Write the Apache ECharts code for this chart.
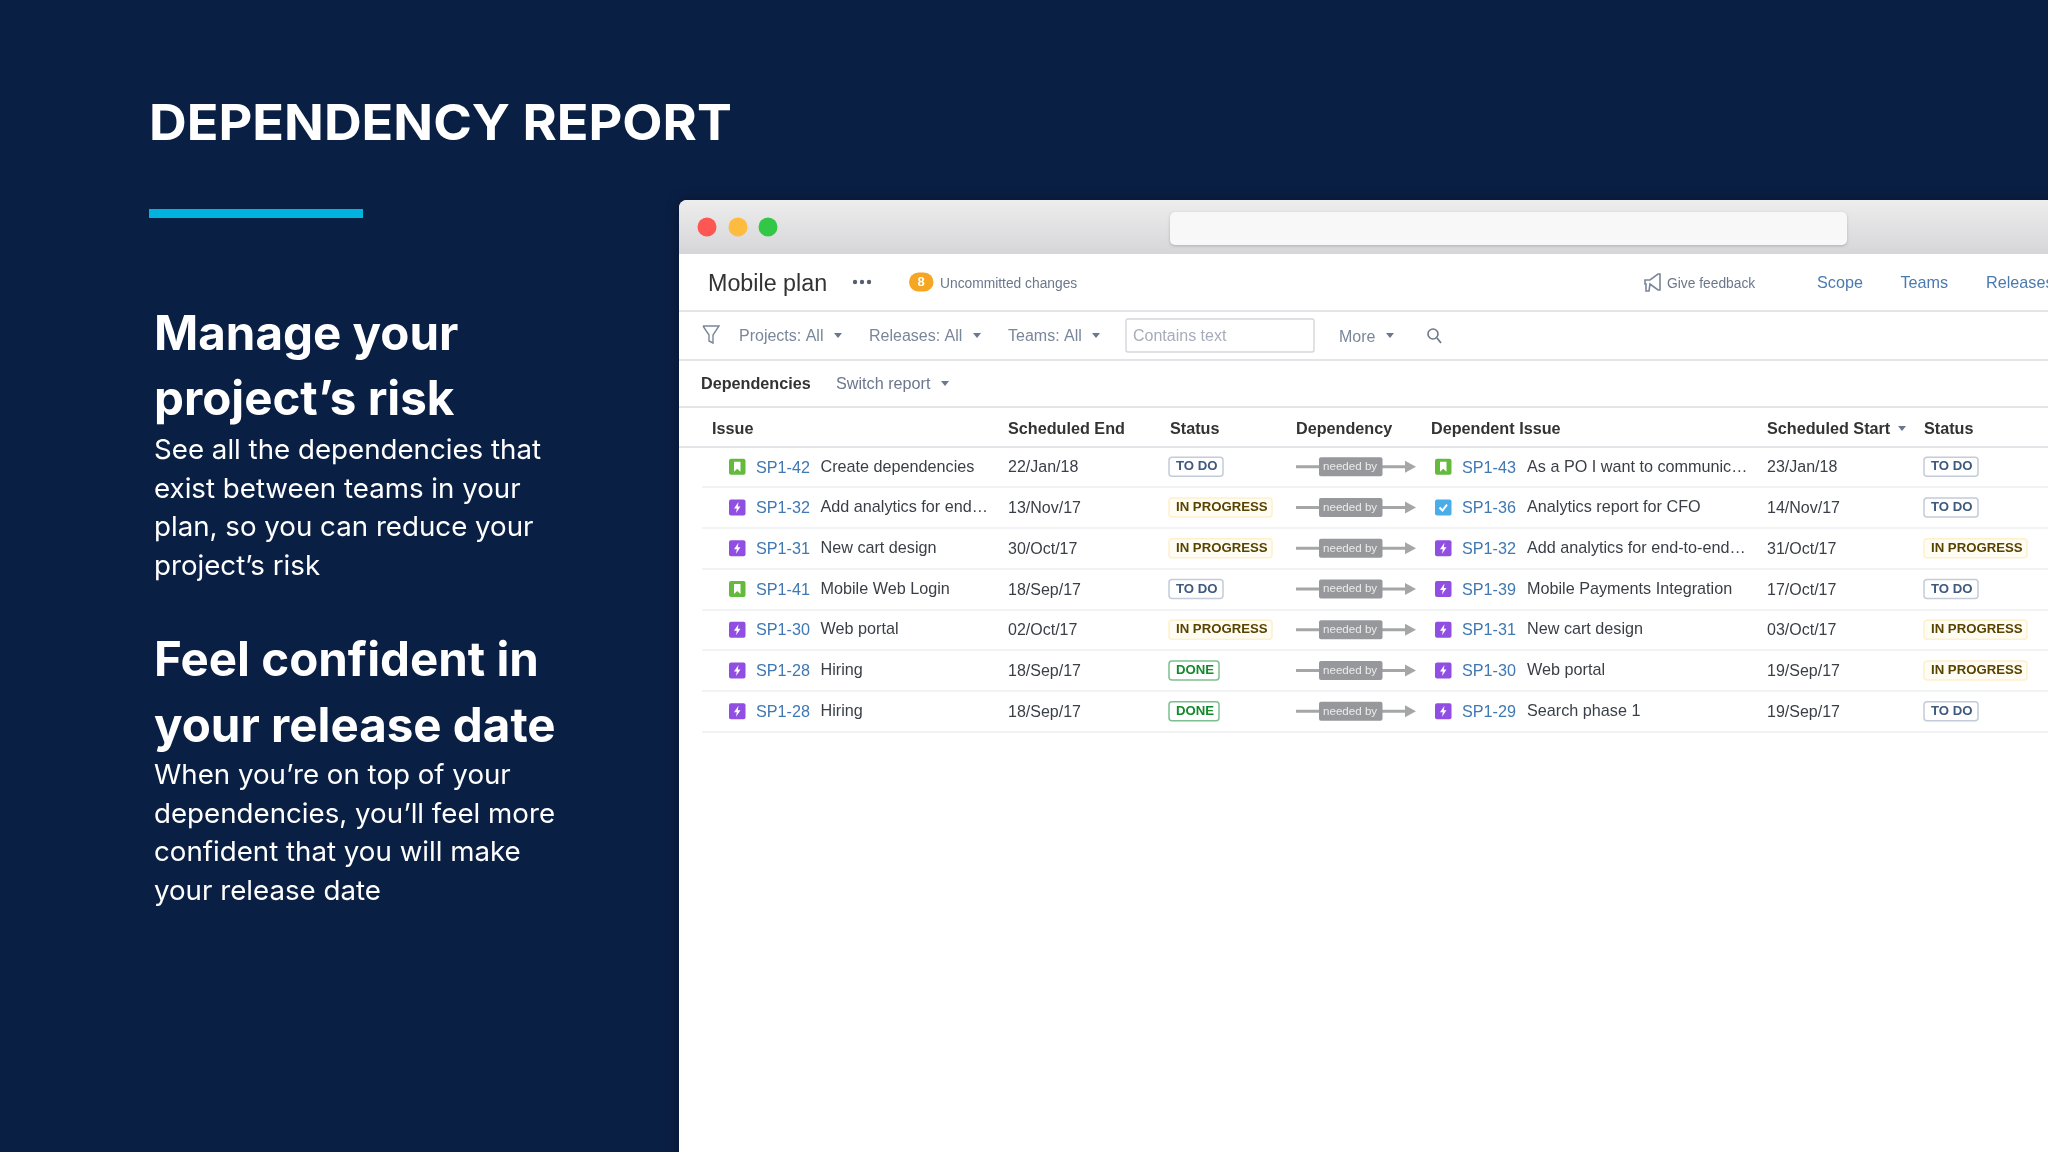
<!DOCTYPE html>
<html lang="en">
<head>
<meta charset="UTF-8">
<title>Dependency report</title>
<script src="https://cdn.jsdelivr.net/npm/echarts@6/dist/echarts.min.js"></script>
<style>
  html, body { margin: 0; padding: 0; background: #0a1f44; }
  #main { width: 2048px; height: 1152px; }
</style>
</head>
<body>
<div id="main"></div>
<script>
// table content
var issueKeys = ['SP1-42', 'SP1-32', 'SP1-31', 'SP1-41', 'SP1-30', 'SP1-28', 'SP1-28'];
var issueTypes = ['story', 'epic', 'epic', 'story', 'epic', 'epic', 'epic'];
var issueNames = ['Create dependencies', 'Add analytics for end\u2026', 'New cart design', 'Mobile Web Login', 'Web portal', 'Hiring', 'Hiring'];
var endDates = ['22/Jan/18', '13/Nov/17', '30/Oct/17', '18/Sep/17', '02/Oct/17', '18/Sep/17', '18/Sep/17'];
var endStatus = ['TO DO', 'IN PROGRESS', 'IN PROGRESS', 'TO DO', 'IN PROGRESS', 'DONE', 'DONE'];
var depKeys = ['SP1-43', 'SP1-36', 'SP1-32', 'SP1-39', 'SP1-31', 'SP1-30', 'SP1-29'];
var depTypes = ['story', 'task', 'epic', 'epic', 'epic', 'epic', 'epic'];
var depNames = ['As a PO I want to communic\u2026', 'Analytics report for CFO', 'Add analytics for end-to-end\u2026', 'Mobile Payments Integration', 'New cart design', 'Web portal', 'Search phase 1'];
var startDates = ['23/Jan/18', '14/Nov/17', '31/Oct/17', '17/Oct/17', '03/Oct/17', '19/Sep/17', '19/Sep/17'];
var startStatus = ['TO DO', 'TO DO', 'IN PROGRESS', 'TO DO', 'IN PROGRESS', 'IN PROGRESS', 'TO DO'];

var slideTitle = 'DEPENDENCY REPORT';
var headingOne = ['Manage your', 'project\u2019s risk'];
var bodyOne = ['See all the dependencies that', 'exist between teams in your', 'plan, so you can reduce your', 'project\u2019s risk'];
var headingTwo = ['Feel confident in', 'your release date'];
var bodyTwo = ['When you\u2019re on top of your', 'dependencies, you\u2019ll feel more', 'confident that you will make', 'your release date'];

var SANS = '"Liberation Sans", Arial, sans-serif';
var SLIDE = 'Inter, sans-serif';
var typeColors = { story: '#63ba3c', epic: '#904ee2', task: '#4bade8' };
var lozenges = {
    'TO DO': { w: 54, fill: '#ffffff', line: '#c3ccd8', text: '#3e5a7e' },
    'IN PROGRESS': { w: 103, fill: '#fffdf3', line: '#fff0cc', text: '#594300' },
    'DONE': { w: 50, fill: '#ffffff', line: '#7cc08f', text: '#14892c' }
};

function label(text, x, y, size, color, weight, align) {
    return {
        type: 'text',
        style: {
            text: text, x: x, y: y + 1.2, fill: color,
            font: (weight || 'normal') + ' ' + size + 'px ' + SANS,
            align: align || 'left',
            verticalAlign: 'middle'
        }
    };
}

function caret(x, y) {
    return { type: 'polygon', shape: { points: [[x - 4, y - 2], [x + 4, y - 2], [x, y + 3]] }, style: { fill: '#6b778c' } };
}

function hline(y) {
    return { type: 'rect', z: 10, shape: { x: 679, y: y - 1, width: 1369, height: 2 }, style: { fill: '#e2e4e7' } };
}

function slideText(lines, x, y, step, size, weight) {
    return lines.map(function (t, i) {
        return {
            type: 'text',
            style: { text: t, x: x, y: y + i * step, fill: '#ffffff', font: weight + ' ' + size + 'px ' + SLIDE, verticalAlign: 'middle' }
        };
    });
}

var chrome = [
    { type: 'rect', shape: { x: 149, y: 209, width: 214, height: 9 }, style: { fill: '#00b2de' } },
    // browser window
    { type: 'rect', shape: { x: 679, y: 200, width: 1400, height: 960, r: [8, 0, 0, 0] }, style: { fill: '#ffffff', shadowBlur: 14, shadowColor: 'rgba(0,0,0,0.3)' } },
    { type: 'rect', shape: { x: 679, y: 200, width: 1369, height: 54, r: [8, 0, 0, 0] }, style: { fill: { type: 'linear', x: 0, y: 0, x2: 0, y2: 1, colorStops: [{ offset: 0, color: '#ededee' }, { offset: 1, color: '#d6d6d8' }] } } },
    { type: 'circle', shape: { cx: 707, cy: 227, r: 9.5 }, style: { fill: '#fc5753' } },
    { type: 'circle', shape: { cx: 738, cy: 227, r: 9.5 }, style: { fill: '#fdbc40' } },
    { type: 'circle', shape: { cx: 768, cy: 227, r: 9.5 }, style: { fill: '#33c748' } },
    { type: 'rect', shape: { x: 1170, y: 212, width: 677, height: 33, r: 5 }, style: { fill: '#f8f8f9', shadowBlur: 3, shadowColor: 'rgba(0,0,0,0.2)', shadowOffsetY: 1 } },
    hline(311), hline(360), hline(407), hline(447),

    // plan header
    label('Mobile plan', 708, 283, 23.3, '#333333'),
    { type: 'circle', shape: { cx: 855, cy: 282, r: 2.2 }, style: { fill: '#55606e' } },
    { type: 'circle', shape: { cx: 862, cy: 282, r: 2.2 }, style: { fill: '#55606e' } },
    { type: 'circle', shape: { cx: 869, cy: 282, r: 2.2 }, style: { fill: '#55606e' } },
    { type: 'rect', shape: { x: 909, y: 272.5, width: 24.5, height: 19, r: 9.5 }, style: { fill: '#f5a623' } },
    label('8', 921, 281, 13, '#ffffff', 'bold', 'center'),
    label('Uncommitted changes', 940, 283, 13.8, '#6b778c'),
    { type: 'polygon', shape: { points: [[1645, 280], [1650, 280], [1658, 274], [1660, 274], [1660, 290], [1658, 290], [1650, 284], [1649, 291], [1646, 291], [1646, 284], [1645, 284]] }, style: { fill: 'none', stroke: '#7a869a', lineWidth: 1.6 } },
    label('Give feedback', 1667, 283, 13.8, '#6b778c'),
    label('Scope', 1817, 282, 16.2, '#4a7ab0'),
    label('Teams', 1900.5, 282, 16.2, '#4a7ab0'),
    label('Releases', 1986, 282, 16.2, '#4a7ab0'),

    // filters
    { type: 'polyline', shape: { points: [[703, 326], [719, 326], [713, 335], [713, 343], [709, 341], [709, 335], [703, 326]] }, style: { fill: 'none', stroke: '#7a869a', lineWidth: 1.4 } },
    label('Projects: All', 739, 335, 16, '#7a869a'),
    caret(838, 335),
    label('Releases: All', 869, 335, 16, '#7a869a'),
    caret(977, 335),
    label('Teams: All', 1008, 335, 16, '#7a869a'),
    caret(1096, 335),
    { type: 'rect', shape: { x: 1126, y: 319, width: 188, height: 33, r: 2 }, style: { fill: '#ffffff', stroke: '#d3d6db', lineWidth: 1.4 } },
    label('Contains text', 1133, 335, 16, '#a5adba'),
    label('More', 1339, 336, 16, '#7a869a'),
    caret(1390, 335),
    { type: 'circle', shape: { cx: 1433, cy: 334, r: 5 }, style: { fill: 'none', stroke: '#6b778c', lineWidth: 1.6 } },
    { type: 'line', shape: { x1: 1437, y1: 338, x2: 1441, y2: 343 }, style: { stroke: '#6b778c', lineWidth: 1.8 } },

    label('Dependencies', 701, 383, 16.2, '#333333', 'bold'),
    label('Switch report', 836, 383, 16.2, '#6b778c'),
    caret(945, 383),

    // column headers
    label('Issue', 712, 428, 16.2, '#333333', 'bold'),
    label('Scheduled End', 1008, 428, 16.2, '#333333', 'bold'),
    label('Status', 1170, 428, 16.2, '#333333', 'bold'),
    label('Dependency', 1296, 428, 16.2, '#333333', 'bold'),
    label('Dependent Issue', 1431, 428, 16.2, '#333333', 'bold'),
    label('Scheduled Start', 1767, 428, 16.2, '#333333', 'bold'),
    caret(1902, 428),
    label('Status', 1924, 428, 16.2, '#333333', 'bold')
];

// left column of the slide
chrome.push({
    type: 'text',
    x: 149, y: 125, scaleX: 1.045,
    style: { text: slideTitle, x: 0, y: 0, fill: '#ffffff', font: '700 50px ' + SLIDE, verticalAlign: 'middle' }
});
chrome = chrome.concat(
    slideText(headingOne, 154, 335.5, 65.5, 47.5, 700),
    slideText(bodyOne, 154, 451, 38.5, 27.7, 400),
    slideText(headingTwo, 154, 662, 65.5, 47.5, 700),
    slideText(bodyTwo, 154, 776, 38.5, 27.7, 400)
);

function typeIcon(type, x, cy) {
    var y = cy - 8;
    var kids = [{ type: 'rect', shape: { x: x, y: y, width: 16.5, height: 16, r: 2 }, style: { fill: typeColors[type] } }];
    if (type === 'story') {
        kids.push({ type: 'polygon', shape: { points: [[x + 5, y + 3], [x + 11.5, y + 3], [x + 11.5, y + 13], [x + 8.2, y + 10], [x + 5, y + 13]] }, style: { fill: '#ffffff' } });
    } else if (type === 'epic') {
        kids.push({ type: 'polygon', shape: { points: [[x + 9.5, y + 2.5], [x + 5, y + 9], [x + 7.8, y + 9], [x + 7, y + 13.5], [x + 11.5, y + 7], [x + 8.8, y + 7]] }, style: { fill: '#ffffff' } });
    } else {
        kids.push({ type: 'polyline', shape: { points: [[x + 4.5, y + 8], [x + 7.5, y + 11], [x + 12, y + 5]] }, style: { fill: 'none', stroke: '#ffffff', lineWidth: 2 } });
    }
    return kids;
}

function lozenge(status, x, cy) {
    var s = lozenges[status];
    return [
        { type: 'rect', shape: { x: x, y: cy - 9.5, width: s.w, height: 19, r: 3 }, style: { fill: s.fill, stroke: s.line, lineWidth: 1.5 } },
        label(status, x + 7, cy - 1.2, 13.2, s.text, 'bold')
    ];
}

function renderRow(params, api) {
    var i = api.value(1);
    var y = api.coord([0, i])[1];
    var kids = [].concat(
        typeIcon(issueTypes[i], 729, y),
        [label(issueKeys[i], 756, y, 16.2, '#3f78b2'),
            label(issueNames[i], 820.5, y - 1, 16.2, '#3a3f47'),
            label(endDates[i], 1008, y, 16, '#3a3f47')],
        lozenge(endStatus[i], 1169, y),
        [{ type: 'rect', shape: { x: 1296, y: y - 1.5, width: 110, height: 3 }, style: { fill: '#a5a6a8' } },
            { type: 'polygon', shape: { points: [[1405, y - 6], [1416, y], [1405, y + 6]] }, style: { fill: '#a5a6a8' } },
            { type: 'rect', shape: { x: 1319, y: y - 9.5, width: 63.5, height: 19, r: 2 }, style: { fill: '#97989b' } },
            label('needed by', 1323, y - 1, 11.6, '#ececec')],
        typeIcon(depTypes[i], 1435, y),
        [label(depKeys[i], 1462, y, 16.2, '#3f78b2'),
            label(depNames[i], 1527, y - 1, 16.2, '#3a3f47'),
            label(startDates[i], 1767, y, 16, '#3a3f47')],
        lozenge(startStatus[i], 1924, y)
    );
    return { type: 'group', children: kids };
}

var chart = echarts.init(document.getElementById('main'));
chart.setOption({
    backgroundColor: '#0a1f44',
    animation: false,
    graphic: { elements: chrome },
    grid: { left: 702, right: 0, top: 446.5, height: 285 },
    xAxis: { type: 'value', min: 0, max: 1, show: false },
    yAxis: {
        type: 'category',
        inverse: true,
        data: issueKeys,
        z: 3,
        axisLine: { show: false },
        axisTick: { show: false },
        axisLabel: { show: false },
        splitLine: { show: true, interval: 0, lineStyle: { color: '#f2f3f5', width: 2 } }
    },
    series: [{
        type: 'custom',
        z: 5,
        clip: false,
        silent: true,
        coordinateSystem: 'cartesian2d',
        renderItem: renderRow,
        encode: { x: 0, y: 1 },
        data: issueKeys.map(function (k, i) { return [0, i]; })
    }]
});
</script>
</body>
</html>
